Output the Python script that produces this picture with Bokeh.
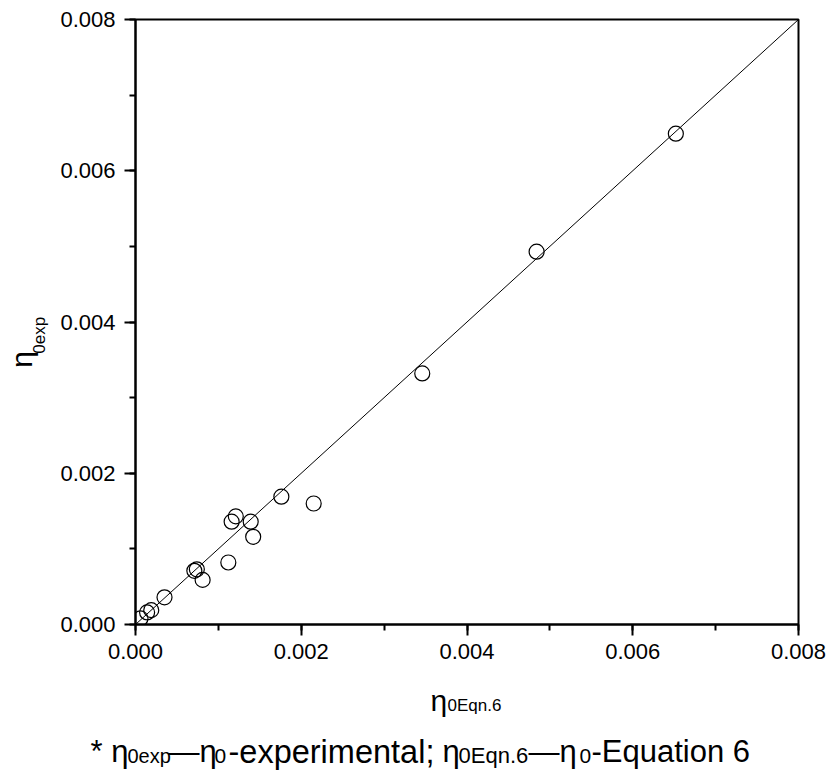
from bokeh.plotting import figure
from bokeh.models import Range1d, SingleIntervalTicker, PrintfTickFormatter
from bokeh.layouts import column, row
from bokeh.core.properties import value
from bokeh.embed import file_html
from bokeh.resources import INLINE
import math

# ---- data ----
eta_eqn6 = [0.00006, 0.00014, 0.00019, 0.00035, 0.00071, 0.00074, 0.00081,
            0.00112, 0.00116, 0.00121, 0.00139, 0.00142, 0.00176, 0.00215,
            0.00346, 0.00484, 0.00652]
eta_exp = [0.00008, 0.00016, 0.00019, 0.00036, 0.00071, 0.00073, 0.00059,
           0.00082, 0.00136, 0.00143, 0.00136, 0.00116, 0.00169, 0.00160,
           0.00332, 0.00493, 0.00649]
line_x = [0.0, 0.008]
line_y = [0.0, 0.008]

# caption / axis-title text pieces (main text and subscripts)
caption_texts = ["* η", "0exp", "—η", "0", "-experimental;", "η", "0Eqn.6",
                 "—η", "0", "-Equation 6"]
xtitle_texts = ["η", "0Eqn.6"]
ytitle_texts = ["η", "0exp"]

FONT = "Liberation Sans"
W, H = 833, 773
YL_W = 55            # width of the y-title strip
MAIN_H = 680         # height of the main plot
L, R, T, B = 135, 798, 19, 624
XMAX = YMAX = 0.008


def blank_fig(w, h, xr, yr):
    f = figure(width=w, height=h, output_backend="svg", toolbar_location=None,
               x_range=xr, y_range=yr, x_axis_type=None, y_axis_type=None,
               min_border=0)
    f.grid.visible = False
    f.outline_line_color = None
    f.background_fill_color = "white"
    f.border_fill_color = "white"
    return f


# ---- main plot ----
p = figure(width=W - YL_W, height=MAIN_H, output_backend="svg", toolbar_location=None,
           x_range=Range1d(0, XMAX), y_range=Range1d(0, YMAX),
           min_border_left=L - YL_W, min_border_right=W - R,
           min_border_top=T, min_border_bottom=MAIN_H - B)
p.grid.visible = False
p.background_fill_color = "white"
p.border_fill_color = "white"
p.outline_line_color = "black"
p.outline_line_width = 2

for ax in (p.xaxis[0], p.yaxis[0]):
    ax.ticker = SingleIntervalTicker(interval=0.002, num_minor_ticks=2)
    ax.formatter = PrintfTickFormatter(format="%.3f")
    ax.axis_line_color = "black"
    ax.axis_line_width = 2
    ax.major_tick_line_color = "black"
    ax.major_tick_line_width = 2
    ax.minor_tick_line_color = "black"
    ax.minor_tick_line_width = 2
    ax.major_tick_out = 11
    ax.major_tick_in = 0
    ax.minor_tick_out = 6
    ax.minor_tick_in = 0
    ax.major_label_text_font = FONT
    ax.major_label_text_font_size = "22px"
    ax.major_label_text_color = "black"
p.xaxis.major_label_standoff = 8
p.yaxis.major_label_standoff = 9

p.line(line_x, line_y, line_color="black", line_width=1)
p.scatter(eta_eqn6, eta_exp, size=15, marker="circle", fill_color=None,
          line_color="black", line_width=1.2)

# ---- y-title strip (data y = -page y) ----
yl = blank_fig(YL_W, MAIN_H, Range1d(0, YL_W), Range1d(-MAIN_H, 0))
yt_x = [21, 39]
yt_y = [382, 355]
yt_size = ["30px", "17px"]
for t, xx, yy, s in zip(ytitle_texts, yt_x, yt_y, yt_size):
    yl.text(x=[xx], y=[-yy], text=[t], text_font=value(FONT), text_font_size=value(s),
            text_color="black", text_align="center", text_baseline="middle",
            angle=math.pi / 2)

# ---- bottom strip: x title and caption (data y = -page y) ----
cap = blank_fig(W, H - MAIN_H, Range1d(0, W), Range1d(-H, -MAIN_H))
xt_x = [430, 447]
xt_y = [699.5, 705]
xt_size = ["30px", "17px"]
for t, xx, yy, s in zip(xtitle_texts, xt_x, xt_y, xt_size):
    cap.text(x=[xx], y=[-yy], text=[t], text_font=value(FONT), text_font_size=value(s),
             text_color="black", text_align="left", text_baseline="alphabetic")

cap_x = [90, 127, 168, 214, 228, 442, 458, 528, 579, 591]
cap_y = [751, 755, 751, 755, 751, 751, 755, 751, 755, 751]
cap_size = ["31px", "20px", "31px", "21px", "32.5px", "31px", "22px", "31px", "21px", "31px"]
for t, xx, yy, s in zip(caption_texts, cap_x, cap_y, cap_size):
    cap.text(x=[xx], y=[-yy], text=[t], text_font=value(FONT),
             text_font_size=value(s),
             text_color="black", text_align="left", text_baseline="alphabetic")

layout = column(row(yl, p, spacing=0), cap, spacing=0)
open("out.html", "w").write(file_html(layout, INLINE))
